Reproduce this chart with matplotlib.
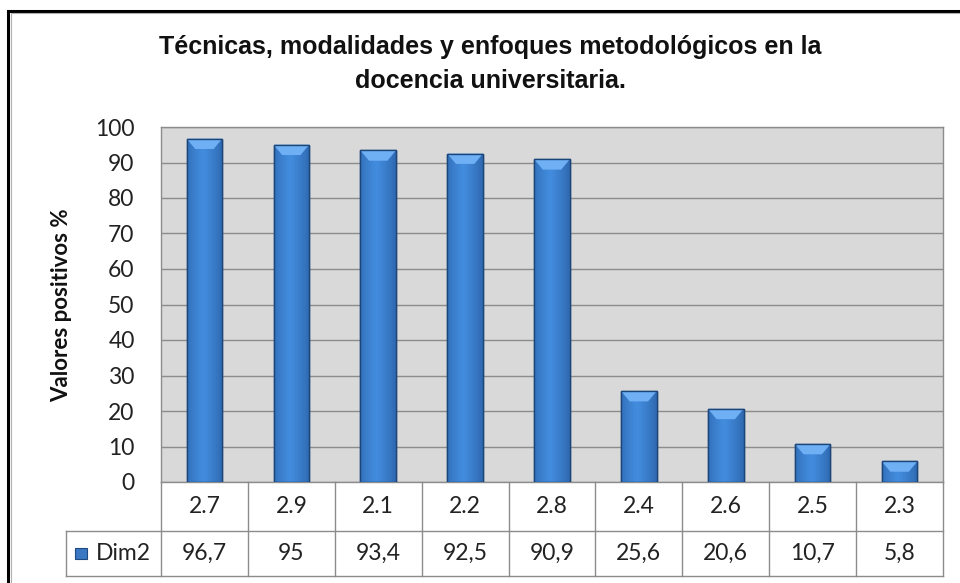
import numpy as np
import matplotlib
matplotlib.use("Agg")
import matplotlib.pyplot as plt
from matplotlib.patches import Rectangle, Polygon
from matplotlib.lines import Line2D

categories = ["2.7", "2.9", "2.1", "2.2", "2.8", "2.4", "2.6", "2.5", "2.3"]
values = [96.7, 95, 93.4, 92.5, 90.9, 25.6, 20.6, 10.7, 5.8]
value_labels = ["96,7", "95", "93,4", "92,5", "90,9", "25,6", "20,6", "10,7", "5,8"]
series_name = "Dim2"
yticks = [0, 10, 20, 30, 40, 50, 60, 70, 80, 90, 100]
title = "Técnicas, modalidades y enfoques metodológicos en la\ndocencia universitaria."
ylabel = "Valores positivos %"

W, H = 960, 583
fig = plt.figure(figsize=(W / 100, H / 100), dpi=100)
fig.patch.set_facecolor("white")

body_font = ["Lato", "DejaVu Sans"]
title_font = ["Liberation Sans Narrow", "Liberation Sans", "DejaVu Sans"]
fs = 16.5

ax_l, ax_r, ax_t, ax_b = 161, 943, 127, 482
ax = fig.add_axes([ax_l / W, 1 - ax_b / H, (ax_r - ax_l) / W, (ax_b - ax_t) / H])
ax.set_facecolor("#d9d9d9")
n = len(categories)
x = np.arange(n)
ax.set_xlim(-0.5, n - 0.5)
ax.set_ylim(0, 100)
ax.set_yticks(yticks)
ax.set_yticklabels([str(t) for t in yticks], fontsize=fs, family=body_font, color="#222222")
ax.tick_params(axis="y", length=0, pad=19)
ax.set_xticks([])
for s in ax.spines.values():
    s.set_color("#8c8c8c")
    s.set_linewidth(1.0)
ax.yaxis.grid(True, color="#8c8c8c", linewidth=1.0)
ax.set_axisbelow(True)

bw = 0.41
bars = ax.bar(x, values, width=bw, color="#3a78c3", edgecolor="#1f4a80", linewidth=1.0, zorder=3)

# horizontal gradient shading clipped to each bar
grad = np.linspace(0, 1, 256)
prof = 1 - 0.55 * np.abs(grad - 0.45) ** 1.2 * 2
prof = np.clip(prof, 0, 1)
c_dark = np.array([0.12, 0.29, 0.54])
c_light = np.array([0.26, 0.55, 0.87])
img = c_dark[None, :] + (c_light - c_dark)[None, :] * prof[:, None]
img = img[None, :, :]
for rect, v in zip(bars, values):
    x0 = rect.get_x()
    x1 = x0 + rect.get_width()
    im = ax.imshow(img, extent=[x0, x1, 0, v], aspect="auto", zorder=3.5, interpolation="bilinear")
    im.set_clip_path(rect)
    # top bevel
    d = 2.9
    ins = 0.10
    poly = Polygon([(x0, v), (x1, v), (x1 - ins, v - d), (x0 + ins, v - d)], closed=True,
                   facecolor="#6fb0f5", edgecolor="none", zorder=3.8)
    ax.add_patch(poly)
    ax.add_patch(Rectangle((x0, 0), x1 - x0, v, facecolor="none", edgecolor="#1d4678",
                           linewidth=1.0, zorder=4))

# data table
tr = ax.get_xaxis_transform()
ah = ax_b - ax_t
y_r1 = -(531 - ax_b) / ah
y_r2 = -(576 - ax_b) / ah
colw = (ax_r - ax_l) / n
x_leg = -0.5 + (66 - ax_l) / colw
lc = "#8c8c8c"
for xb in np.arange(-0.5, n, 1.0):
    ax.add_line(Line2D([xb, xb], [0, y_r2], transform=tr, color=lc, lw=1.0, clip_on=False))
ax.add_line(Line2D([x_leg, n - 0.5], [y_r1, y_r1], transform=tr, color=lc, lw=1.0, clip_on=False))
ax.add_line(Line2D([x_leg, n - 0.5], [y_r2, y_r2], transform=tr, color=lc, lw=1.0, clip_on=False))
ax.add_line(Line2D([x_leg, x_leg], [y_r1, y_r2], transform=tr, color=lc, lw=1.0, clip_on=False))
for xi, c, vl in zip(x, categories, value_labels):
    ax.text(xi, y_r1 / 2, c, transform=tr, ha="center", va="center", fontsize=fs,
            family=body_font, color="#222222", clip_on=False)
    ax.text(xi, (y_r1 + y_r2) / 2, vl, transform=tr, ha="center", va="center", fontsize=fs,
            family=body_font, color="#222222", clip_on=False)

# legend key in table
kx0 = -0.5 + (75 - ax_l) / colw
kx1 = -0.5 + (87 - ax_l) / colw
ymid = (y_r1 + y_r2) / 2
kh = 11 / ah
ax.add_patch(Rectangle((kx0, ymid - kh / 2), kx1 - kx0, kh, transform=tr, facecolor="#3a78c3",
                       edgecolor="#1f4a80", lw=0.8, clip_on=False, zorder=5))
ax.text(-0.5 + (96 - ax_l) / colw, ymid, series_name, transform=tr, ha="left", va="center",
        fontsize=fs, family=body_font, color="#222222", clip_on=False)

# y label
fig.text(62 / W, 1 - 305 / H, ylabel, rotation=90, ha="center", va="center", fontsize=16,
         fontweight="bold", family=body_font, color="#111111")

# title
fig.text(490 / W, 1 - 64 / H, title, ha="center", va="center", fontsize=18, fontweight="bold",
         family=title_font, color="#111111", linespacing=1.5)

# outer border
fig.patches.append(Rectangle((8 / W, -0.1), 1.2, 1.1 - 11 / H, transform=fig.transFigure,
                             facecolor="none", edgecolor="black", linewidth=2.2, zorder=10))
fig.patches.append(Rectangle((10.5 / W, -0.1), 1.2, 1.1 - 13.5 / H, transform=fig.transFigure,
                             facecolor="none", edgecolor="#b0b0b0", linewidth=0.8, zorder=10))

fig.savefig("out.png", dpi=100)
